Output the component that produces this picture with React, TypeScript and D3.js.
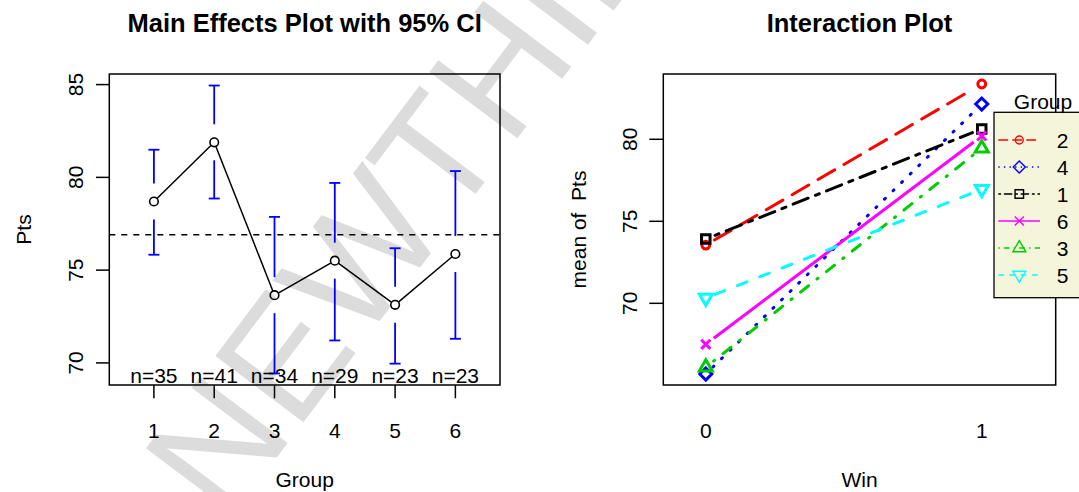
import React from "react";
import * as d3 from "d3";

// ---- Main effects data (Pts by Group) ----
const groups = ["1", "2", "3", "4", "5", "6"];
const groupMeans = [78.7, 81.89, 73.65, 75.51, 73.13, 75.87];
const ciLower = [75.83, 78.86, 69.43, 71.21, 69.96, 71.3];
const ciUpper = [81.49, 84.95, 77.87, 79.7, 76.18, 80.34];
const groupN = [35, 41, 34, 29, 23, 23];
const grandMean = 76.91;
const mainYTicks = [70, 75, 80, 85];

// ---- Interaction data (mean of Pts by Win, per Group; legend order) ----
const winLevels = [0, 1];
const traceGroups = ["2", "4", "1", "6", "3", "5"];
const traceWin0 = [73.55, 65.69, 73.92, 67.5, 66.1, 70.32];
const traceWin1 = [83.37, 82.15, 80.63, 80.2, 79.45, 76.95];
const interYTicks = [70, 75, 80];

// R-like styling per trace
const traceColor = ["#FF0000", "#0000FF", "#000000", "#FF00FF", "#00CD00", "#00FFFF"];
const traceLty = ["73", "13", "2262", "", "1343", "44"];
const traceShape = ["circle", "diamond", "square", "cross", "triUp", "triDown"];

const FONT = "'Liberation Sans', Arial, Helvetica, sans-serif";
const BASE = 21;

// R lty hex string -> SVG dash array; round caps extend each dash by the line width
function dash(lty: string, unit: number, lw: number) {
  if (!lty) return undefined;
  return lty
    .split("")
    .map((c, i) => {
      const v = parseInt(c, 16) * unit;
      return i % 2 === 0 ? Math.max(0.01, v - lw * 0.6) : v + lw * 0.6;
    })
    .join(",");
}

function markerPath(shape: string, s: number) {
  if (shape === "square") {
    const h = 0.886 * s;
    return `M${-h},${-h}H${h}V${h}H${-h}Z`;
  }
  if (shape === "diamond") {
    const h = 1.253 * s;
    return `M0,${-h}L${h},0L0,${h}L${-h},0Z`;
  }
  if (shape === "triUp" || shape === "triDown") {
    const r = 1.555 * s, xc = 1.347 * s, yc = 0.778 * s;
    const k = shape === "triUp" ? 1 : -1;
    return `M0,${-r * k}L${xc},${yc * k}L${-xc},${yc * k}Z`;
  }
  if (shape === "cross") {
    const h = 0.95 * s;
    return `M${-h},${-h}L${h},${h}M${-h},${h}L${h},${-h}`;
  }
  return "";
}

function Marker({ shape, x, y, color, sw, s }: any) {
  if (shape === "circle") {
    return <circle cx={x} cy={y} r={0.82 * s} fill="none" stroke={color} strokeWidth={sw} />;
  }
  return (
    <path d={markerPath(shape, s)} transform={`translate(${x},${y})`} fill="none" stroke={color} strokeWidth={sw} strokeLinejoin="miter" />
  );
}

// segment between two points shortened by `gap` at both ends
function gapSeg(x1: number, y1: number, x2: number, y2: number, gap: number) {
  const dx = x2 - x1, dy = y2 - y1;
  const len = Math.hypot(dx, dy);
  if (len <= 2 * gap) return null;
  const ux = dx / len, uy = dy / len;
  return { x1: x1 + ux * gap, y1: y1 + uy * gap, x2: x2 - ux * gap, y2: y2 - uy * gap };
}

function MainEffects() {
  const left = 109.3, right = 500, top = 74, bottom = 385;
  const x = d3.scaleLinear().domain([0.26, 6.74]).range([left, right]);
  const lo = d3.min(ciLower)!, hi = d3.max(ciUpper)!;
  const pad = 0.04 * (hi - lo);
  const y = d3.scaleLinear().domain([lo - pad, hi + pad]).range([bottom, top]);
  const gap = 18, cap = 5.5, r = 4.3;
  const pts = groupMeans.map((m, i) => [x(i + 1), y(m)]);

  return (
    <g fontFamily={FONT}>
      <text x={(left + right) / 2} y={31.7} textAnchor="middle" fontSize={25.5} fontWeight="bold">
        Main Effects Plot with 95% CI
      </text>
      {/* grand mean */}
      <line x1={left} x2={right} y1={y(grandMean)} y2={y(grandMean)} stroke="#000" strokeWidth={1.5} strokeDasharray="6,6" />
      {/* confidence intervals */}
      {groups.map((g, i) => {
        const cx = x(i + 1), ym = y(groupMeans[i]), yu = y(ciUpper[i]), yl = y(ciLower[i]);
        return (
          <g key={g} stroke="#0000FF" strokeWidth={1.8}>
            {ym - gap > yu && <line x1={cx} x2={cx} y1={yu} y2={ym - gap} />}
            {ym + gap < yl && <line x1={cx} x2={cx} y1={ym + gap} y2={yl} />}
            <line x1={cx - cap} x2={cx + cap} y1={yu} y2={yu} />
            <line x1={cx - cap} x2={cx + cap} y1={yl} y2={yl} />
          </g>
        );
      })}
      {/* connecting line */}
      {pts.slice(1).map((p, i) => {
        const s = gapSeg(pts[i][0], pts[i][1], p[0], p[1], r);
        return s ? <line key={i} {...s} stroke="#000" strokeWidth={1.5} /> : null;
      })}
      {pts.map((p, i) => (
        <circle key={i} cx={p[0]} cy={p[1]} r={r} fill="none" stroke="#000" strokeWidth={1.6} />
      ))}
      {groupN.map((n, i) => (
        <text key={i} x={x(i + 1)} y={383.3} textAnchor="middle" fontSize={BASE}>{`n=${n}`}</text>
      ))}
      <rect x={left} y={top} width={right - left} height={bottom - top} fill="none" stroke="#000" strokeWidth={1.5} />
      {/* y axis */}
      {mainYTicks.map((t) => (
        <g key={t}>
          <line x1={left - 13.3} x2={left} y1={y(t)} y2={y(t)} stroke="#000" strokeWidth={1.5} />
          <text transform={`translate(${left - 26.3},${y(t)}) rotate(-90)`} textAnchor="middle" fontSize={BASE}>{t}</text>
        </g>
      ))}
      {/* x axis */}
      {groups.map((g, i) => (
        <g key={g}>
          <line x1={x(i + 1)} x2={x(i + 1)} y1={bottom} y2={bottom + 13.3} stroke="#000" strokeWidth={1.5} />
          <text x={x(i + 1)} y={438.3} textAnchor="middle" fontSize={BASE}>{g}</text>
        </g>
      ))}
      <text x={(left + right) / 2} y={487} textAnchor="middle" fontSize={BASE}>Group</text>
      <text transform={`translate(31,${(top + bottom) / 2}) rotate(-90)`} textAnchor="middle" fontSize={BASE}>Pts</text>
    </g>
  );
}

function Interaction() {
  const left = 663.3, right = 1055.7, top = 74, bottom = 385;
  const x = d3.scaleLinear().domain([-0.154, 1.268]).range([left, right]);
  const y = d3.scaleLinear().domain([65.02, 83.98]).range([bottom, top]);
  const s = 4.8;

  const legX = 994, legY = 112.3, rowY0 = 140, rowStep = 27;

  return (
    <g fontFamily={FONT}>
      <text x={(left + right) / 2} y={31.7} textAnchor="middle" fontSize={25.5} fontWeight="bold">
        Interaction Plot
      </text>
      {traceGroups.map((g, i) => {
        const x0 = x(winLevels[0]), y0 = y(traceWin0[i]);
        const x1 = x(winLevels[1]), y1 = y(traceWin1[i]);
        const seg = gapSeg(x0, y0, x1, y1, 10);
        return (
          <g key={g}>
            {seg && (
              <line
                {...seg}
                stroke={traceColor[i]}
                strokeWidth={3}
                strokeLinecap={traceLty[i] ? "round" : "butt"}
                strokeDasharray={dash(traceLty[i], 3, 3)}
              />
            )}
            <Marker shape={traceShape[i]} x={x0} y={y0} color={traceColor[i]} sw={3} s={s} />
            <Marker shape={traceShape[i]} x={x1} y={y1} color={traceColor[i]} sw={3} s={s} />
          </g>
        );
      })}
      <rect x={left} y={top} width={right - left} height={bottom - top} fill="none" stroke="#000" strokeWidth={1.5} />
      {interYTicks.map((t) => (
        <g key={t}>
          <line x1={left - 14} x2={left} y1={y(t)} y2={y(t)} stroke="#000" strokeWidth={1.5} />
          <text transform={`translate(${left - 26},${y(t)}) rotate(-90)`} textAnchor="middle" fontSize={BASE}>{t}</text>
        </g>
      ))}
      {winLevels.map((w) => (
        <text key={w} x={x(w)} y={438.3} textAnchor="middle" fontSize={BASE}>{w}</text>
      ))}
      <text x={(left + right) / 2} y={487} textAnchor="middle" fontSize={BASE}>Win</text>
      <text transform={`translate(586,${(top + bottom) / 2}) rotate(-90)`} textAnchor="middle" fontSize={BASE} style={{ whiteSpace: "pre" }}>
        mean of  Pts
      </text>
      {/* legend */}
      <rect x={legX} y={legY} width={100} height={185.4} fill="#F5F5DC" stroke="#000" strokeWidth={1.3} />
      <text x={1043} y={109.3} textAnchor="middle" fontSize={BASE}>Group</text>
      {traceGroups.map((g, i) => {
        const ry = rowY0 + i * rowStep;
        return (
          <g key={g}>
            <line
              x1={998.3}
              x2={1040}
              y1={ry}
              y2={ry}
              stroke={traceColor[i]}
              strokeWidth={1.4}
              strokeDasharray={dash(traceLty[i], 1.4, 0)}
            />
            <Marker shape={traceShape[i]} x={1019.3} y={ry} color={traceColor[i]} sw={1.4} s={s} />
            <text x={1056.7} y={ry + 7.5} fontSize={BASE}>{g}</text>
          </g>
        );
      })}
    </g>
  );
}

export default function App() {
  return (
    <svg
      width={1079}
      height={492}
      viewBox="0 0 1079 492"
      style={{ position: "absolute", left: 0, top: 0, background: "#fff", overflow: "hidden" }}
    >
      <rect width={1079} height={492} fill="#fff" />
      {/* background watermark */}
      <text
        transform="translate(226,525) rotate(-53)"
        fontFamily={FONT}
        fontSize={160}
        fill="#DCDCDC"
      >
        NEWTHINKTANK
      </text>
      <MainEffects />
      <Interaction />
    </svg>
  );
}
